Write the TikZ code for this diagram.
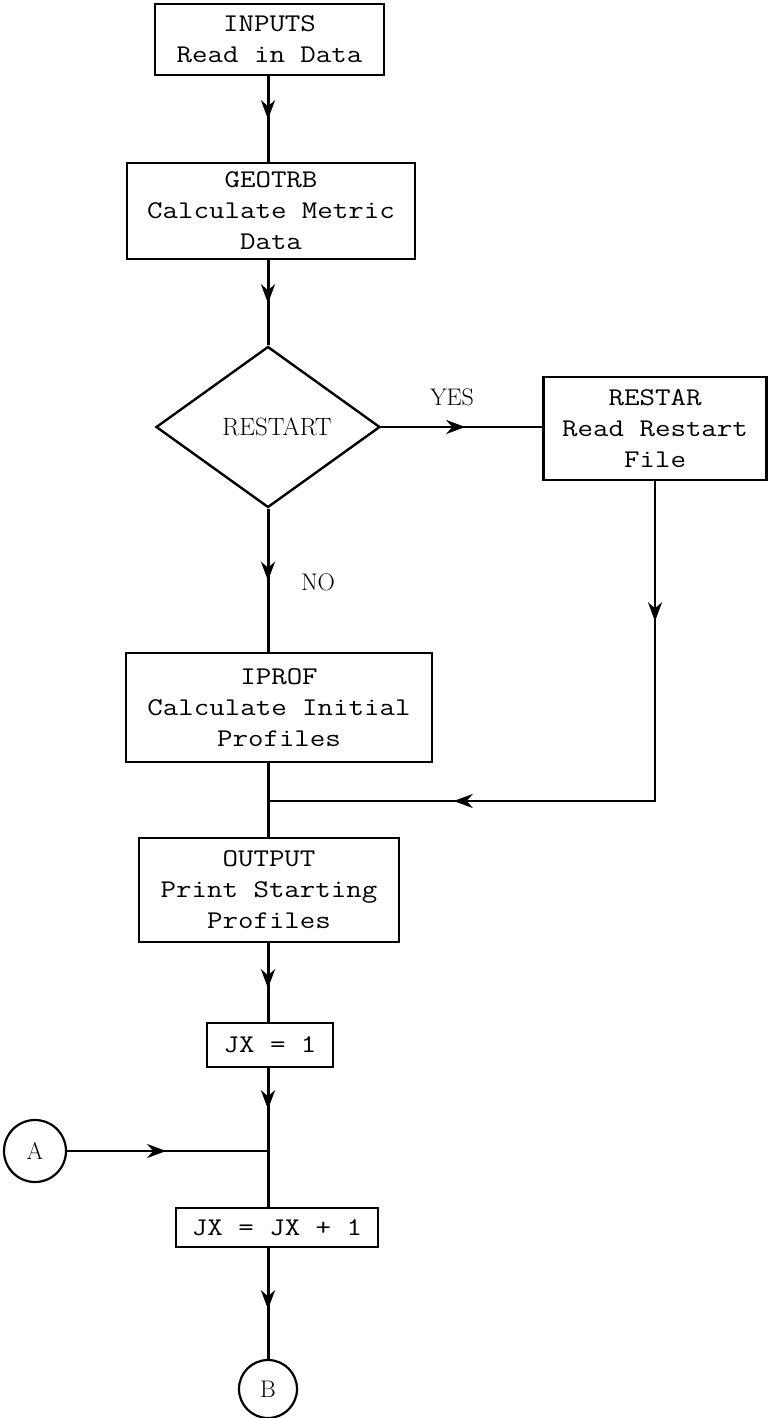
\documentclass[tikz,border=0pt]{standalone}
\usepackage{graphicx}
\usetikzlibrary{shapes.geometric,arrows.meta,decorations.markings}
\newcommand\sx[1]{\scalebox{1.18}[1]{#1}}
\newcommand\flowtip{\arrow{Stealth[length=19pt,width=14pt,inset=6pt]}}
\tikzset{
  procbox/.style={draw, line width=2.6pt, inner sep=0pt, align=center,
    font=\fontsize{25.5}{31}\selectfont\ttfamily},
  decision/.style={draw, diamond, line width=2.4pt, inner sep=0pt, aspect=1.39,
    font=\fontsize{25}{29}\selectfont\rmfamily},
  connector/.style={draw, circle, line width=2.2pt, inner sep=0pt,
    font=\fontsize{24}{28}\selectfont\rmfamily},
  lbl/.style={inner sep=0pt, font=\fontsize{24}{28}\selectfont\rmfamily},
  mainline/.style={line width=3pt},
  sideline/.style={line width=2.2pt},
  midarrow/.style={postaction={decorate},
    decoration={markings, mark=at position #1 with {\flowtip}}}
}
\begin{document}
\begin{tikzpicture}[x=1pt,y=-1pt]
\useasboundingbox (0,0) rectangle (769,1418);
\coordinate (col) at (268,0);

\node[procbox, minimum width=229pt, minimum height=71pt] (inputs) at (269.5,39.5)
  {\sx{INPUTS}\\\sx{Read in Data}};
\node[procbox, minimum width=288pt, minimum height=96pt] (geotrb) at (271,211)
  {\sx{GEOTRB}\\\sx{Calculate Metric}\\\sx{Data}};
\node[decision, minimum width=224pt, minimum height=161pt] (dia) at (268,427)
  {\hspace*{18pt}RESTART};
\node[procbox, minimum width=223pt, minimum height=103pt] (restar) at (655,428.5)
  {\sx{RESTAR}\\\sx{Read Restart}\\\sx{File}};
\node[procbox, minimum width=306pt, minimum height=109pt] (iprof) at (279,707.5)
  {\sx{IPROF}\\\sx{Calculate Initial}\\\sx{Profiles}};
\node[procbox, minimum width=260pt, minimum height=104pt] (output) at (269,890)
  {\sx{OUTPUT}\\\sx{Print Starting}\\\sx{Profiles}};
\node[procbox, minimum width=126pt, minimum height=44pt] (jx1) at (270,1045)
  {\sx{JX = 1}};
\node[procbox, minimum width=202pt, minimum height=39pt] (jx2) at (277,1227.5)
  {\sx{JX = JX + 1}};
\node[connector, minimum size=62pt] (A) at (35,1151) {A};
\node[connector, minimum size=58pt] (B) at (268,1389) {B};

\node[lbl] (yes) at (452,397) {YES};
\node[lbl] (no) at (318,582) {NO};

\coordinate (join) at (268,801);
\coordinate (joinA) at (268,1151);

\draw[mainline, midarrow=43pt] (inputs.south -| col) -- (geotrb.north -| col);
\draw[mainline, midarrow=43pt] (geotrb.south -| col) -- (dia.north);
\draw[sideline, midarrow=84pt] (dia.east) -- (dia.east -| restar.west);
\draw[mainline, midarrow=72pt] (dia.south) -- (dia.south |- iprof.north);
\draw[sideline, postaction={decorate},
  decoration={markings, mark=at position 140pt with {\flowtip},
                        mark=at position 521pt with {\flowtip}}]
  (restar.south) |- (join);
\draw[mainline] (iprof.south -| col) -- (output.north -| col);
\draw[mainline, midarrow=45pt] (output.south -| col) -- (jx1.north -| col);
\draw[mainline, midarrow=41pt] (jx1.south -| col) -- (jx2.north -| col);
\draw[sideline, midarrow=99pt] (A.east) -- (joinA);
\draw[mainline, midarrow=61pt] (jx2.south -| col) -- (B.north);
\end{tikzpicture}
\end{document}
